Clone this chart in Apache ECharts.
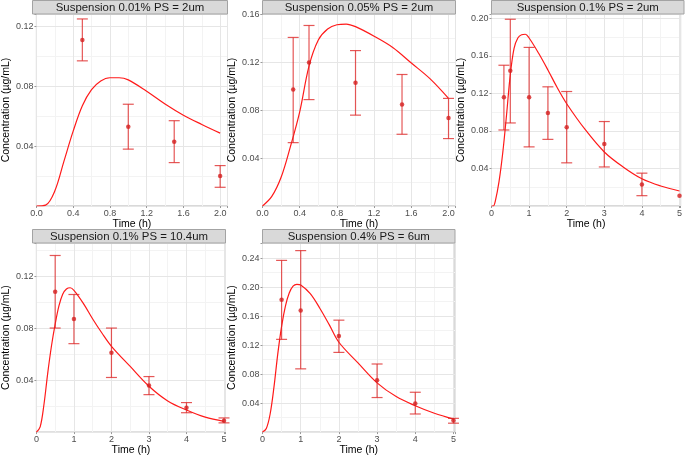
<!DOCTYPE html>
<html><head><meta charset="utf-8">
<script src="https://cdn.jsdelivr.net/npm/echarts@6/dist/echarts.min.js"></script>
<style>html,body{margin:0;padding:0;background:#fff}#c{width:685px;height:457px}</style>
</head><body><div id="c"></div>
<script>
// ---------- DATA ----------
const panelTitles = ['Suspension 0.01% PS = 2um', 'Suspension 0.05% PS = 2um', 'Suspension 0.1% PS = 2um', 'Suspension 0.1% PS = 10.4um', 'Suspension 0.4% PS = 6um'];
const xAxisTitle = 'Time (h)';
const yAxisTitle = 'Concentration (µg/mL)';

// Panel 1: Suspension 0.01% PS = 2um
const p1ObsTime = [0.5, 1.0, 1.5, 2.0];
const p1ObsMean = [0.111, 0.053, 0.043, 0.020];
const p1ObsLow  = [0.097, 0.038, 0.029, 0.0125];
const p1ObsHigh = [0.125, 0.068, 0.057, 0.027];
const p1CurveTime = [0, 0.1, 0.2, 0.3, 0.4, 0.5, 0.6, 0.7, 0.8, 0.9, 1.0, 1.2, 1.4, 1.6, 1.8, 2.0];
const p1CurveConc = [0, 0.0006, 0.010, 0.030, 0.050, 0.067, 0.0777, 0.0835, 0.0857, 0.0857, 0.0843, 0.0767, 0.0682, 0.0607, 0.0545, 0.0487];

// Panel 2: Suspension 0.05% PS = 2um
const p2ObsTime = [0.33, 0.5, 1.0, 1.5, 2.0];
const p2ObsMean = [0.0975, 0.120, 0.103, 0.085, 0.0736];
const p2ObsLow  = [0.053, 0.089, 0.076, 0.060, 0.0564];
const p2ObsHigh = [0.141, 0.151, 0.130, 0.110, 0.090];
const p2CurveTime = [0, 0.1, 0.2, 0.3, 0.4, 0.5, 0.6, 0.7, 0.8, 0.9, 1.0, 1.2, 1.4, 1.6, 1.8, 2.0];
const p2CurveConc = [0, 0.008, 0.024, 0.0497, 0.0788, 0.117, 0.1388, 0.148, 0.1516, 0.1522, 0.150, 0.142, 0.1326, 0.1196, 0.1065, 0.090];

// Panel 3: Suspension 0.1% PS = 2um
const p3ObsTime = [0.33, 0.5, 1, 1.5, 2, 3, 4, 5];
const p3ObsMean = [0.116, 0.144, 0.116, 0.099, 0.084, 0.066, 0.023, 0.011];
const p3ObsLow  = [0.081, 0.0885, 0.063, 0.071, 0.046, 0.0416, 0.011, null];
const p3ObsHigh = [0.150, 0.199, 0.169, 0.127, 0.122, 0.090, 0.035, null];
const p3CurveTime = [0, 0.05, 0.1, 0.2, 0.3, 0.4, 0.5, 0.6, 0.7, 0.8, 0.9, 1.0, 1.25, 1.5, 1.75, 2.0, 2.5, 3.0, 3.5, 4.0, 4.5, 5.0];
const p3CurveConc = [0, 0, 0.005, 0.026, 0.057, 0.097, 0.140, 0.168, 0.179, 0.1825, 0.183, 0.179, 0.163, 0.145, 0.126, 0.109, 0.081, 0.0576, 0.0416, 0.029, 0.0213, 0.016];

// Panel 4: Suspension 0.1% PS = 10.4um
const p4ObsTime = [0.5, 1, 2, 3, 4, 5];
const p4ObsMean = [0.108, 0.087, 0.061, 0.0358, 0.0187, 0.0088];
const p4ObsLow  = [0.080, 0.068, 0.042, 0.0288, 0.0149, 0.0071];
const p4ObsHigh = [0.1358, 0.1058, 0.080, 0.0427, 0.0227, 0.0109];
const p4CurveTime = [0, 0.1, 0.2, 0.3, 0.4, 0.5, 0.6, 0.7, 0.8, 0.9, 1.0, 1.25, 1.5, 1.75, 2.0, 2.5, 3.0, 3.5, 4.0, 4.5, 5.0];
const p4CurveConc = [0, 0.004, 0.021, 0.045, 0.066, 0.083, 0.097, 0.106, 0.110, 0.111, 0.109, 0.099, 0.087, 0.076, 0.066, 0.0505, 0.0353, 0.024, 0.017, 0.0115, 0.0083];

// Panel 5: Suspension 0.4% PS = 6um
const p5ObsTime = [0.5, 1, 2, 3, 4, 5];
const p5ObsMean = [0.1827, 0.168, 0.1327, 0.0714, 0.0395, 0.0159];
const p5ObsLow  = [0.128, 0.0873, 0.110, 0.0477, 0.025, 0.0123];
const p5ObsHigh = [0.237, 0.2505, 0.1545, 0.094, 0.055, 0.019];
const p5CurveTime = [0, 0.1, 0.2, 0.3, 0.4, 0.5, 0.6, 0.7, 0.8, 0.9, 1.0, 1.25, 1.5, 1.75, 2.0, 2.5, 3.0, 3.5, 4.0, 4.5, 5.0];
const p5CurveConc = [0, 0.005, 0.025, 0.062, 0.108, 0.146, 0.174, 0.192, 0.2015, 0.204, 0.203, 0.191, 0.171, 0.148, 0.124, 0.0955, 0.068, 0.049, 0.0364, 0.026, 0.018];

// ---------- LAYOUT ----------
const layout = [
  {left: 32.5, top: 14, width: 195, height: 192, xMax: 2.08, xStep: 0.4, xDec: 1, yMax: 0.1283, yStep: 0.04},
  {left: 262.5, top: 14, width: 193, height: 192, xMax: 2.075, xStep: 0.4, xDec: 1, yMax: 0.1606, yStep: 0.04},
  {left: 491.5, top: 14, width: 192.5, height: 192, xMax: 5.03, xStep: 1, xDec: 0, yMax: 0.2046, yStep: 0.04},
  {left: 32.5, top: 243, width: 193, height: 192, xMax: 5.04, xStep: 1, xDec: 0, yMax: 0.1454, yStep: 0.04},
  {left: 262.5, top: 243, width: 192.5, height: 192, xMax: 5.04, xStep: 1, xDec: 0, yMax: 0.261, yStep: 0.04}
];
const stripH = 13.5;

const panelData = [
  [p1ObsTime, p1ObsMean, p1ObsLow, p1ObsHigh, p1CurveTime, p1CurveConc],
  [p2ObsTime, p2ObsMean, p2ObsLow, p2ObsHigh, p2CurveTime, p2CurveConc],
  [p3ObsTime, p3ObsMean, p3ObsLow, p3ObsHigh, p3CurveTime, p3CurveConc],
  [p4ObsTime, p4ObsMean, p4ObsLow, p4ObsHigh, p4CurveTime, p4CurveConc],
  [p5ObsTime, p5ObsMean, p5ObsLow, p5ObsHigh, p5CurveTime, p5CurveConc]
];

const FONT = 'Liberation Sans, Arial, sans-serif';
const majorGrid = '#e6e6e6', minorGrid = '#f3f3f3';
const lineRed = '#ff1a1a', pointRed = '#d41f1f', barRed = 'rgba(222,40,40,0.78)';

function isMult(v, step) { return Math.abs(v / step - Math.round(v / step)) < 1e-6; }

const grids = [], xAxes = [], yAxes = [], series = [], graphics = [];
layout.forEach((L, i) => {
  grids.push({left: L.left, top: L.top, width: L.width, height: L.height, show: true,
    borderColor: '#b3b3b3', borderWidth: 1, backgroundColor: '#fff', containLabel: false});
  xAxes.push({type: 'value', gridIndex: i, position: 'bottom', min: 0, max: L.xMax, interval: L.xStep / 2,
    axisLine: {show: false}, axisTick: {show: false}, axisLabel: {show: false},
    splitLine: {show: true, lineStyle: {color: minorGrid, width: 1}}, z: 0});
  xAxes.push({type: 'value', gridIndex: i, position: 'bottom', min: 0, max: L.xMax, interval: L.xStep,
    name: xAxisTitle, nameLocation: 'middle', nameGap: 9.5,
    nameTextStyle: {fontFamily: FONT, fontSize: 10.5, color: '#000'},
    axisLine: {show: false}, axisTick: {show: true, length: 2, lineStyle: {color: '#999'}},
    axisLabel: {margin: 3, fontFamily: FONT, fontSize: 9, color: '#4d4d4d',
      formatter: (v) => isMult(v, L.xStep) ? v.toFixed(L.xDec) : ''},
    splitLine: {show: true, lineStyle: {color: majorGrid, width: 1}}, z: 1});
  yAxes.push({type: 'value', gridIndex: i, position: 'left', min: 0, max: L.yMax, interval: L.yStep / 2,
    axisLine: {show: false}, axisTick: {show: false}, axisLabel: {show: false},
    splitLine: {show: true, lineStyle: {color: minorGrid, width: 1}}, z: 0});
  yAxes.push({type: 'value', gridIndex: i, position: 'left', min: 0, max: L.yMax, interval: L.yStep,
    name: yAxisTitle, nameLocation: 'middle', nameGap: 22, nameRotate: 90,
    nameTextStyle: {fontFamily: FONT, fontSize: 10.5, color: '#000'},
    axisLine: {show: false}, axisTick: {show: true, length: 2, lineStyle: {color: '#999'}},
    axisLabel: {margin: 3, fontFamily: FONT, fontSize: 9, color: '#4d4d4d', showMinLabel: false,
      formatter: (v) => (v > 0 && isMult(v, L.yStep)) ? v.toFixed(2) : ''},
    splitLine: {show: true, lineStyle: {color: majorGrid, width: 1}}, z: 1});

  const d = panelData[i];
  const ax = 2 * i + 1;
  series.push({type: 'line', xAxisIndex: ax, yAxisIndex: ax, showSymbol: false, smooth: 0.35,
    data: d[4].map((t, k) => [t, d[5][k]]), lineStyle: {color: lineRed, width: 1.2}, z: 3, silent: true});
  series.push({type: 'custom', xAxisIndex: ax, yAxisIndex: ax, z: 4, silent: true,
    data: d[0].map((t, k) => [t, d[2][k], d[3][k]]).filter(r => r[1] != null),
    encode: {x: 0, y: [1, 2]},
    renderItem: (params, api) => {
      const t = api.value(0), lo = api.value(1), hi = api.value(2);
      const a = api.coord([t, hi]), b = api.coord([t, lo]);
      const hw = 5.5;
      const st = {stroke: barRed, lineWidth: 1.2};
      return {type: 'group', children: [
        {type: 'line', shape: {x1: a[0], y1: a[1], x2: b[0], y2: b[1]}, style: st},
        {type: 'line', shape: {x1: a[0] - hw, y1: a[1], x2: a[0] + hw, y2: a[1]}, style: st},
        {type: 'line', shape: {x1: b[0] - hw, y1: b[1], x2: b[0] + hw, y2: b[1]}, style: st}
      ]};
    }});
  series.push({type: 'scatter', xAxisIndex: ax, yAxisIndex: ax, symbol: 'circle', symbolSize: 4.5, z: 5, silent: true,
    data: d[0].map((t, k) => [t, d[1][k]]), itemStyle: {color: pointRed}});

  graphics.push({type: 'rect', shape: {x: L.left, y: L.top - stripH, width: L.width, height: stripH},
    style: {fill: '#d9d9d9', stroke: '#a3a3a3', lineWidth: 1}, z: 10});
  graphics.push({type: 'text', x: L.left + L.width / 2, y: L.top - stripH / 2 + 0.5,
    style: {text: panelTitles[i], fill: '#1a1a1a', font: '11.4px ' + FONT, align: 'center', verticalAlign: 'middle'}, z: 11});
});

const chart = echarts.init(document.getElementById('c'), null, {renderer: 'canvas'});
chart.setOption({
  animation: false,
  backgroundColor: '#ffffff',
  grid: grids, xAxis: xAxes, yAxis: yAxes, series: series,
  graphic: {elements: graphics}
});
</script></body></html>
